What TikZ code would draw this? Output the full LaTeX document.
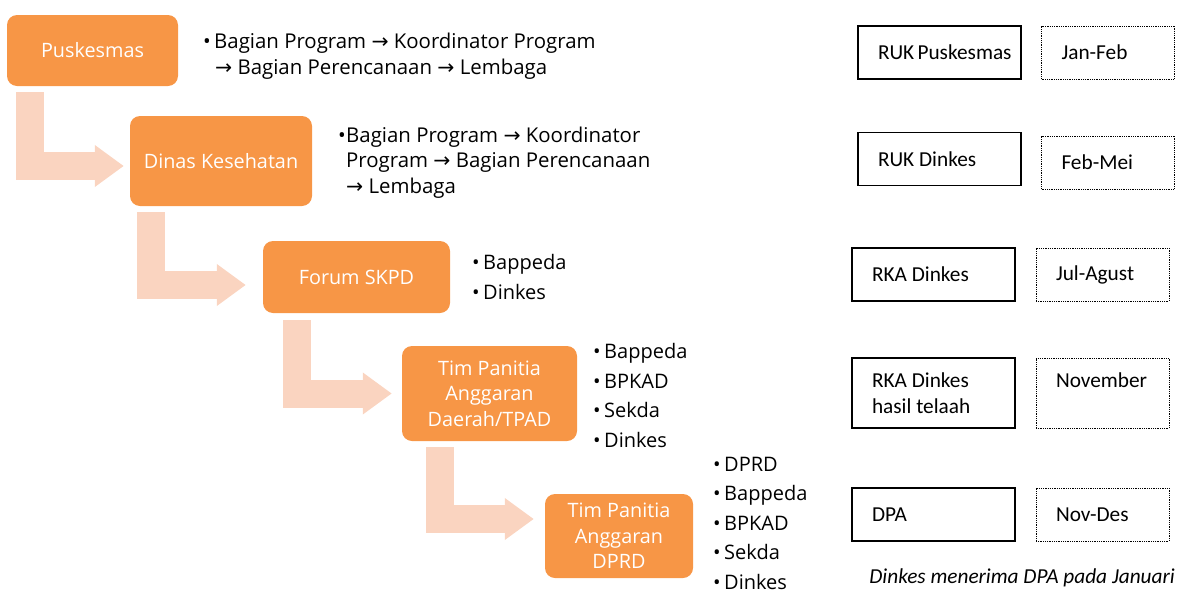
\documentclass[tikz,border=0pt]{standalone}
\usepackage{fontspec}
\setmainfont{Open Sans}
\newfontfamily\calibri{Carlito}
\newfontfamily\arrowfont{DejaVu Sans}
\usetikzlibrary{arrows.meta,positioning,calc}
\definecolor{stageorange}{HTML}{F79646}
\definecolor{flowpeach}{HTML}{FAD4C0}
\newcommand\arr{\iffontchar\font"2192 →\else{\arrowfont →}\fi}
\newcommand\bul{\makebox[11pt][l]{•}}

\begin{document}
\begin{tikzpicture}[x=1pt,y=-1pt,
  stage/.style={rectangle, rounded corners=10pt, fill=stageorange, text=white, align=center, inner sep=0pt, font=\fontsize{19.8}{25.5}\selectfont},
  flow/.style={line width=28pt, draw=flowpeach, -{Triangle[length=29pt,width=40pt]}},
  notes/.style={anchor=base west, align=left, inner sep=0pt, font=\fontsize{20.4}{25.5}\selectfont},
  items/.style={notes, font=\fontsize{20}{29.5}\selectfont},
  docbox/.style={draw, line width=1.2pt, minimum width=163pt, minimum height=53pt, inner xsep=20pt, text width=123pt, align=flush left, font=\calibri\fontsize{21.3}{26}\selectfont},
  datebox/.style={docbox, line width=0.8pt, densely dotted, minimum width=133pt, text width=93pt}]
\useasboundingbox (0,0) rectangle (1184,592);

% stages
\node[stage, minimum width=171pt, minimum height=71pt] (puskesmas) at (92.5,50.5) {Puskesmas};
\node[stage, minimum width=182pt, minimum height=90pt] (dinkes) at (221,161) {Dinas Kesehatan};
\node[stage, minimum width=187pt, minimum height=72pt] (forum) at (356.5,277) {Forum SKPD};
\node[stage, minimum width=175pt, minimum height=95pt] (tpad) at (489.5,393.5) {Tim Panitia\\Anggaran\\Daerah/TPAD};
\node[stage, minimum width=148pt, minimum height=84pt] (banggar) at (619,536) {Tim Panitia\\Anggaran\\DPRD};

% flow arrows
\draw[flow] ([shift={(23,6)}]puskesmas.south west) |- ([shift={(-6,5)}]dinkes.west);
\draw[flow] ([shift={(21.5,6)}]dinkes.south west) |- ([shift={(-17,8)}]forum.west);
\draw[flow] ([shift={(34.5,7)}]forum.south west) |- ([shift={(-10,0)}]tpad.west);
\draw[flow] ([shift={(38,6)}]tpad.south west) |- ([shift={(-11,-17)}]banggar.west);

% who takes part (anchored at the last line)
\node[notes] (notepkm) at (203,74) {\bul Bagian Program \arr{} Koordinator Program\\\hspace{12pt}\arr{} Bagian Perencanaan \arr{} Lembaga};
\node[notes] (notedinkes) at (338,193) {\makebox[8pt][l]{•}Bagian Program \arr{} Koordinator\\\hspace{8pt}Program \arr{} Bagian Perencanaan\\\hspace{8pt}\arr{} Lembaga};
\node[items] (noteforum) at (472,299) {\bul Bappeda\\\bul Dinkes};
\node[items] (notetpad) at (593,447) {\bul Bappeda\\\bul BPKAD\\\bul Sekda\\\bul Dinkes};
\node[items] (notebanggar) at (713,589) {\bul DPRD\\\bul Bappeda\\\bul BPKAD\\\bul Sekda\\\bul Dinkes};

% documents and months
\node[docbox] (rukpkm) at (939.5,52.5) {RUK~Puskesmas};
\node[datebox] (janfeb) at (1108,52.5) {Jan-Feb};
\node[docbox] (rukdinkes) at (939.5,159) {RUK~Dinkes};
\node[datebox] (febmei) at (1108,162.5) {Feb-Mei};
\node[docbox] (rka) at (933.5,274.5) {RKA~Dinkes};
\node[datebox] (julagust) at (1102.5,274.5) {Jul-Agust};
\node[docbox, minimum height=70pt] (rkatelaah) at (933.5,393) {RKA Dinkes\\hasil telaah};
\node[datebox, minimum height=70pt] (november) at (1102.5,393) {November\\\mbox{}};
\node[docbox] (dpa) at (933.5,514.5) {DPA};
\node[datebox] (novdes) at (1102.5,514.5) {Nov-Des};
\node[font=\calibri\itshape\fontsize{21.3}{24}\selectfont, anchor=base east, inner sep=0pt] (caption) at (1175,583) {Dinkes menerima DPA pada Januari};
\end{tikzpicture}
\end{document}
